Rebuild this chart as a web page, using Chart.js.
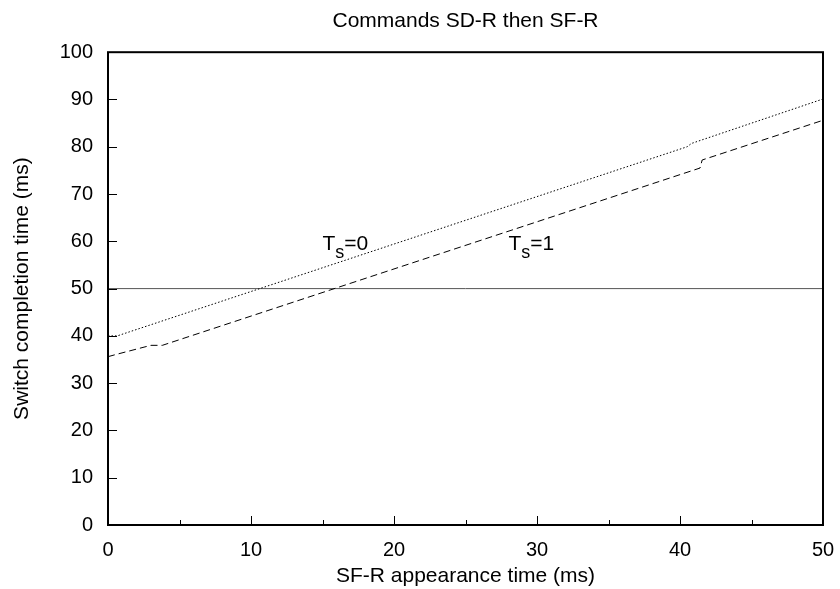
<!DOCTYPE html>
<html>
<head>
<meta charset="utf-8">
<script src="https://cdn.jsdelivr.net/npm/chart.js@4.4.1/dist/chart.umd.min.js"></script>
<style>
  html, body { margin: 0; padding: 0; background: #fff; }
</style>
</head>
<body>
<canvas id="chart" width="840" height="589"></canvas>
<script>
// T_s=0 curve (dotted)
var ts0_x = [0, 0.65, 40.5, 40.8, 50];
var ts0_y = [40, 40, 80.0, 80.7, 90.1];
// T_s=1 curve (dashed)
var ts1_x = [0, 0.6, 3.0, 3.8, 41.4, 41.55, 50];
var ts1_y = [35.6, 36.1, 38.0, 38.0, 75.5, 77.2, 85.6];
// 50 ms limit
var limit_x = [0, 50];
var limit_y = [50, 50];

var x_major = [0, 10, 20, 30, 40, 50];
var x_minor = [5, 15, 25, 35, 45];
var y_major = [0, 10, 20, 30, 40, 50, 60, 70, 80, 90, 100];

// curve labels: [x, y, subscript, rest]
var curve_labels = [
    [15.0, 58.2, 's', '=0'],
    [28.0, 58.2, 's', '=1']
];

function to_points(xs, ys) {
    return xs.map(function(x, i) { return {x: x, y: ys[i]}; });
}

var FONT = '"Liberation Sans", Arial, sans-serif';
Chart.defaults.font.family = FONT;
Chart.defaults.color = '#000';

var frame_plugin = {
    id: 'frame',
    afterDatasetsDraw: function(chart) {
        var ctx = chart.ctx;
        var a = chart.chartArea;
        var xs = chart.scales.x, ys = chart.scales.y;
        ctx.save();
        ctx.strokeStyle = '#000';
        ctx.lineWidth = 1;
        ctx.beginPath();
        x_major.forEach(function(v) {
            var px = Math.round(xs.getPixelForValue(v)) + 0.5;
            ctx.moveTo(px, a.bottom);
            ctx.lineTo(px, a.bottom - 9);
        });
        x_minor.forEach(function(v) {
            var px = Math.round(xs.getPixelForValue(v)) + 0.5;
            ctx.moveTo(px, a.bottom);
            ctx.lineTo(px, a.bottom - 5);
        });
        y_major.forEach(function(v) {
            var py = Math.round(ys.getPixelForValue(v)) + 0.5;
            ctx.moveTo(a.left, py);
            ctx.lineTo(a.left + 9, py);
        });
        ctx.stroke();
        ctx.lineWidth = 2;
        ctx.strokeRect(a.left, a.top, a.right - a.left, a.bottom - a.top);

        // T_s labels
        ctx.fillStyle = '#000';
        ctx.textBaseline = 'alphabetic';
        ctx.textAlign = 'left';
        curve_labels.forEach(function(l) {
            var px = xs.getPixelForValue(l[0]);
            var py = ys.getPixelForValue(l[1]);
            ctx.font = '21px ' + FONT;
            ctx.fillText('T', px, py);
            var w = ctx.measureText('T').width;
            ctx.font = '18px ' + FONT;
            ctx.fillText(l[2], px + w, py + 8);
            var w2 = ctx.measureText(l[2]).width;
            ctx.font = '21px ' + FONT;
            ctx.fillText(l[3], px + w + w2, py);
        });
        ctx.restore();
    }
};

new Chart(document.getElementById('chart'), {
    type: 'line',
    data: {
        datasets: [
            {
                label: 'T_s=0',
                data: to_points(ts0_x, ts0_y),
                borderColor: '#000',
                borderWidth: 1,
                borderDash: [1.5, 2],
                pointRadius: 0,
                tension: 0
            },
            {
                label: 'T_s=1',
                data: to_points(ts1_x, ts1_y),
                borderColor: '#000',
                borderWidth: 1,
                borderDash: [7, 4],
                pointRadius: 0,
                tension: 0
            },
            {
                label: 'limit',
                data: to_points(limit_x, limit_y),
                borderColor: '#555',
                borderWidth: 1,
                pointRadius: 0
            }
        ]
    },
    options: {
        responsive: false,
        animation: false,
        devicePixelRatio: 1,
        layout: { padding: { left: 0, right: 17, top: 0, bottom: 0 } },
        plugins: {
            legend: { display: false },
            tooltip: { enabled: false },
            title: {
                display: true,
                fullSize: false,
                text: 'Commands SD-R then SF-R',
                font: { size: 21, weight: 'normal' },
                color: '#000',
                padding: { top: 9, bottom: 18 }
            }
        },
        scales: {
            x: {
                type: 'linear',
                min: 0,
                max: 50,
                grid: { display: false, drawTicks: false },
                border: { display: false },
                ticks: { stepSize: 10, padding: 13, font: { size: 20 }, color: '#000', maxRotation: 0 },
                title: {
                    display: true,
                    text: 'SF-R appearance time (ms)',
                    font: { size: 21 },
                    color: '#000',
                    padding: { top: 0, bottom: 0 }
                },
                afterFit: function(scale) {
                    scale.height = 64;
                    scale.paddingLeft = 0;
                    scale.paddingRight = 0;
                }
            },
            y: {
                type: 'linear',
                min: 0,
                max: 100,
                grid: { display: false, drawTicks: false },
                border: { display: false },
                ticks: { stepSize: 10, padding: 15, font: { size: 20 }, color: '#000' },
                title: {
                    display: true,
                    text: 'Switch completion time (ms)',
                    font: { size: 21 },
                    color: '#000',
                    padding: { top: 10, bottom: 0 }
                },
                afterFit: function(scale) { scale.width = 108; }
            }
        }
    },
    plugins: [frame_plugin]
});
</script>
</body>
</html>
